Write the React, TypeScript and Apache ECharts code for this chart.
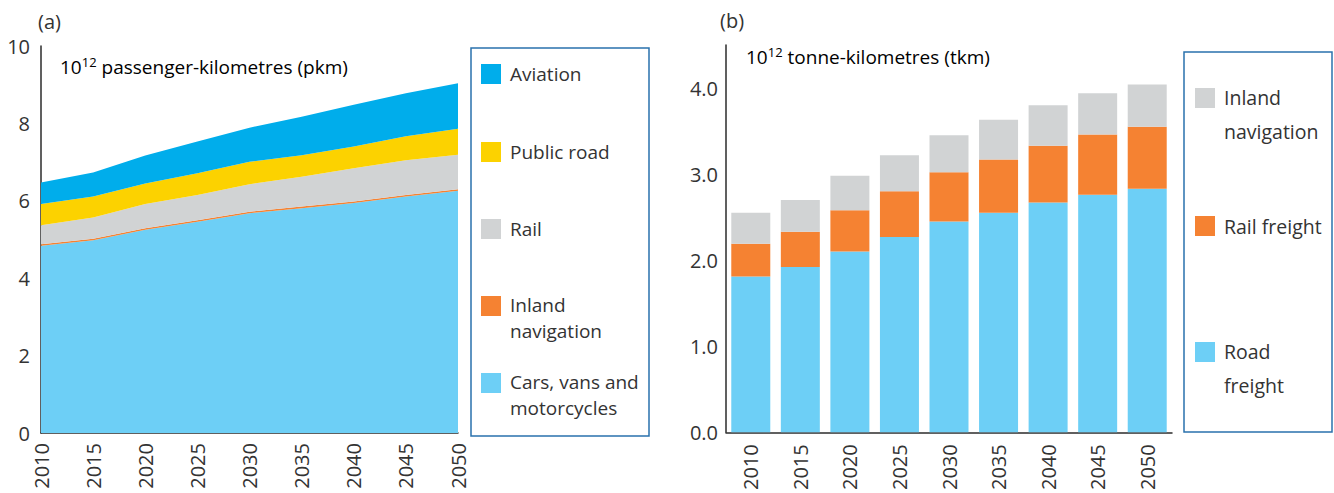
import React, { useEffect, useRef } from "react";
import * as echarts from "echarts";

const yearsA = ["2010", "2015", "2020", "2025", "2030", "2035", "2040", "2045", "2050"];
const cars = [4.84, 4.98, 5.25, 5.46, 5.68, 5.81, 5.94, 6.11, 6.26];
const inlandPass = [0.04, 0.04, 0.04, 0.04, 0.04, 0.04, 0.04, 0.04, 0.04];
const railPass = [0.49, 0.55, 0.63, 0.65, 0.71, 0.77, 0.86, 0.9, 0.89];
const publicRoad = [0.55, 0.54, 0.53, 0.56, 0.58, 0.56, 0.56, 0.62, 0.67];
const aviation = [0.55, 0.62, 0.72, 0.82, 0.88, 0.99, 1.08, 1.11, 1.18];

const yearsB = ["2010", "2015", "2020", "2025", "2030", "2035", "2040", "2045", "2050"];
const roadFreight = [1.81, 1.92, 2.1, 2.27, 2.45, 2.55, 2.67, 2.76, 2.83];
const railFreight = [0.38, 0.41, 0.48, 0.53, 0.57, 0.62, 0.66, 0.7, 0.72];
const inlandFreight = [0.36, 0.37, 0.4, 0.42, 0.43, 0.46, 0.47, 0.48, 0.49];

const C_AVI = "#00adeb";
const C_PUB = "#fcd200";
const C_RAIL = "#d1d3d4";
const C_ORANGE = "#f58232";
const C_CARS = "#6dcff6";
const TXT = "#333333";
const AX = "#2b2b2b";
const FONT = "Open Sans";

const legendA = [
  { lines: ["Aviation"], color: C_AVI, cy: 74 },
  { lines: ["Public road"], color: C_PUB, cy: 152 },
  { lines: ["Rail"], color: C_RAIL, cy: 229 },
  { lines: ["Inland", "navigation"], color: C_ORANGE, cy: 306 },
  { lines: ["Cars, vans and", "motorcycles"], color: C_CARS, cy: 383 },
];
const legendB = [
  { lines: ["Inland", "navigation"], color: C_RAIL, cy: 98 },
  { lines: ["Rail freight"], color: C_ORANGE, cy: 226 },
  { lines: ["Road", "freight"], color: C_CARS, cy: 352 },
];

export default function App() {
  const ref = useRef<HTMLDivElement>(null);
  useEffect(() => {
    if (!ref.current) return;
    const chart = echarts.init(ref.current, undefined, { renderer: "svg" });

    const areaSeries = (name: string, data: number[], color: string) => ({
      name,
      type: "line",
      stack: "a",
      xAxisIndex: 0,
      yAxisIndex: 0,
      data,
      symbol: "none",
      lineStyle: { width: 0 },
      areaStyle: { color, opacity: 1 },
      itemStyle: { color },
    });
    const barSeries = (name: string, data: number[], color: string) => ({
      name,
      type: "bar",
      stack: "b",
      xAxisIndex: 1,
      yAxisIndex: 1,
      data,
      barWidth: 39,
      itemStyle: { color },
    });

    const legendGraphics: any[] = [];
    const addLegend = (
      items: { lines: string[]; color: string; cy: number }[],
      sx: number,
      tx: number,
      lh: number,
      fs: number
    ) => {
      items.forEach((it) => {
        legendGraphics.push({
          type: "rect",
          shape: { x: sx, y: it.cy - 10, width: 20, height: 20 },
          style: { fill: it.color },
        });
        const off = it.lines.length > 1 ? -1 : 0;
        it.lines.forEach((ln, i) => {
          legendGraphics.push({
            type: "text",
            x: tx,
            y: it.cy + off + i * lh,
            style: {
              text: ln,
              fill: TXT,
              font: `${fs}px "${FONT}"`,
              verticalAlign: "middle",
            },
          });
        });
      });
    };
    legendGraphics.push({
      type: "rect",
      shape: { x: 471, y: 48, width: 178, height: 388 },
      style: { fill: "none", stroke: "#2a72ad", lineWidth: 1.5 },
    });
    addLegend(legendA, 481, 510, 26, 19);
    legendGraphics.push({
      type: "rect",
      shape: { x: 1184, y: 52, width: 148, height: 380 },
      style: { fill: "none", stroke: "#2a72ad", lineWidth: 1.5 },
    });
    addLegend(legendB, 1195, 1224, 34, 19.5);

    const supRich = {
      a: { fontSize: 19, fontFamily: FONT, color: TXT, lineHeight: 26 },
      s: { fontSize: 13, fontFamily: FONT, color: TXT, lineHeight: 26, padding: [0, 0, 10, 0] },
    };

    const option: any = {
      animation: false,
      textStyle: { fontFamily: FONT },
      grid: [
        { left: 41, top: 46, width: 417, height: 387 },
        { left: 726, top: 45, width: 446, height: 388 },
      ],
      xAxis: [
        {
          type: "category",
          gridIndex: 0,
          data: yearsA,
          boundaryGap: false,
          axisLine: { lineStyle: { color: AX, width: 1.5 } },
          axisTick: { show: false },
          axisLabel: { rotate: 90, margin: 10, fontSize: 20, color: TXT, fontFamily: FONT },
        },
        {
          type: "category",
          gridIndex: 1,
          data: yearsB,
          axisLine: { lineStyle: { color: AX, width: 1.5 } },
          axisTick: { show: false },
          axisLabel: { rotate: 90, margin: 12, fontSize: 20, color: TXT, fontFamily: FONT },
        },
      ],
      yAxis: [
        {
          type: "value",
          gridIndex: 0,
          min: 0,
          max: 10,
          interval: 2,
          axisLine: { show: true, lineStyle: { color: AX, width: 1.5 } },
          axisTick: { show: false },
          splitLine: { show: false },
          axisLabel: { margin: 11, fontSize: 20, color: TXT, fontFamily: FONT },
        },
        {
          type: "value",
          gridIndex: 1,
          min: 0,
          max: 4.5,
          interval: 1,
          axisLine: { show: true, lineStyle: { color: AX, width: 1.5 } },
          axisTick: { show: false },
          splitLine: { show: false },
          axisLabel: {
            margin: 8,
            fontSize: 20,
            color: TXT,
            fontFamily: FONT,
            showMaxLabel: false,
            formatter: (v: number) => (v > 4.2 ? "" : v.toFixed(1)),
          },
        },
      ],
      graphic: [
        {
          type: "text",
          x: 38,
          y: 21,
          style: { text: "(a)", fill: TXT, font: `20px "${FONT}"`, verticalAlign: "middle" },
        },
        {
          type: "text",
          x: 720,
          y: 20,
          style: { text: "(b)", fill: TXT, font: `20px "${FONT}"`, verticalAlign: "middle" },
        },
        {
          type: "text",
          x: 60,
          y: 67,
          style: {
            text: "{a|10}{s|12}{a| passenger-kilometres (pkm)}",
            rich: supRich,
            verticalAlign: "middle",
          },
        },
        {
          type: "text",
          x: 746,
          y: 57,
          style: {
            text: "{a|10}{s|12}{a| tonne-kilometres (tkm)}",
            rich: supRich,
            verticalAlign: "middle",
          },
        },
        ...legendGraphics,
      ],
      series: [
        areaSeries("Cars, vans and motorcycles", cars, C_CARS),
        areaSeries("Inland navigation", inlandPass, C_ORANGE),
        areaSeries("Rail", railPass, C_RAIL),
        areaSeries("Public road", publicRoad, C_PUB),
        areaSeries("Aviation", aviation, C_AVI),
        barSeries("Road freight", roadFreight, C_CARS),
        barSeries("Rail freight", railFreight, C_ORANGE),
        barSeries("Inland navigation ", inlandFreight, C_RAIL),
      ],
    };
    chart.setOption(option);
    return () => chart.dispose();
  }, []);
  return (
    <div
      ref={ref}
      style={{ position: "absolute", left: 0, top: 0, width: 1334, height: 493, background: "#fff" }}
    />
  );
}
